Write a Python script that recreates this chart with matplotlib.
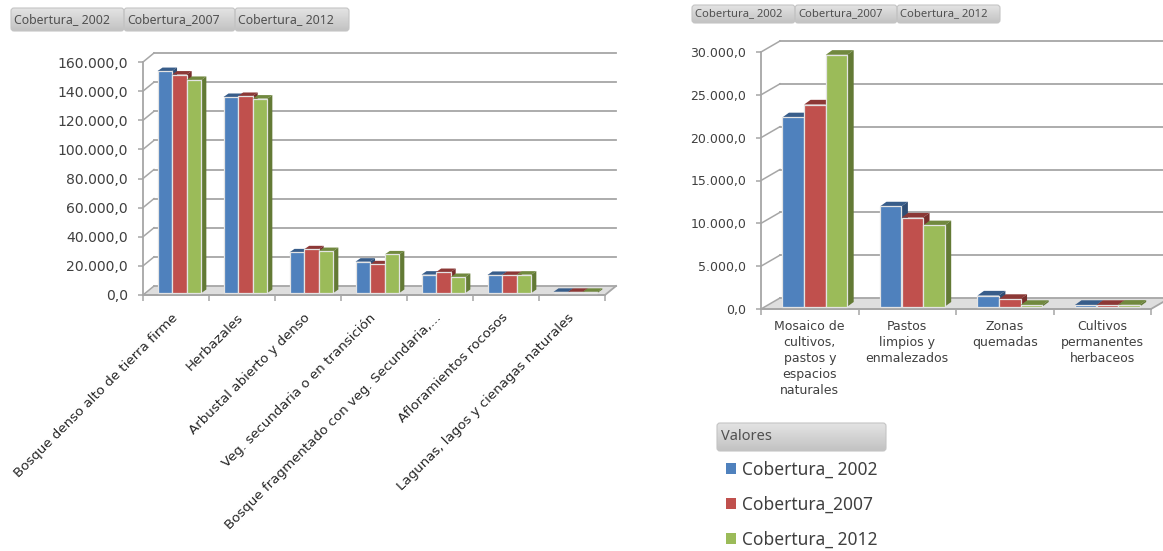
import numpy as np
import matplotlib
matplotlib.use("Agg")
import matplotlib.pyplot as plt
from matplotlib.patches import Polygon, FancyBboxPatch
from matplotlib.transforms import ScaledTranslation

W, H = 1163, 551

SERIES = ["Cobertura_ 2002", "Cobertura_2007", "Cobertura_ 2012"]
FACE = ["#4F81BD", "#C0504D", "#9BBB59"]
TOP = ["#385D8A", "#8C3836", "#71893F"]
SIDE = ["#2F4E75", "#772F2D", "#637A35"]
GRID = "#a6a6a6"
TEXT = "#404040"

LEFT_CATS = [
    "Bosque denso alto de tierra firme",
    "Herbazales",
    "Arbustal abierto y denso",
    "Veg. secundaria o en transición",
    "Bosque fragmentado con veg. Secundaria,...",
    "Afloramientos rocosos",
    "Lagunas, lagos y cienagas naturales",
]
LEFT_2002 = [152400, 134600, 27900, 21500, 12600, 12400, 800]
LEFT_2007 = [150000, 135300, 30000, 19700, 14400, 12400, 800]
LEFT_2012 = [146300, 133500, 28800, 26500, 11000, 12600, 800]
LEFT_TICKS = [0, 20000, 40000, 60000, 80000, 100000, 120000, 140000, 160000]

RIGHT_CATS = [
    "Mosaico de\ncultivos,\npastos y\nespacios\nnaturales",
    "Pastos\nlimpios y\nenmalezados",
    "Zonas\nquemadas",
    "Cultivos\npermanentes\nherbaceos",
]
RIGHT_2002 = [22100, 11700, 1300, 200]
RIGHT_2007 = [23600, 10400, 900, 200]
RIGHT_2012 = [29400, 9500, 200, 220]
RIGHT_TICKS = [0, 5000, 10000, 15000, 20000, 25000, 30000]


def fmt(v):
    return f"{v:,.1f}".replace(",", "#").replace(".", ",").replace("#", ".")


def make_axes(fig, x0, x1, y_top, y_zero):
    return fig.add_axes([x0 / W, 1 - y_zero / H, (x1 - x0) / W, (y_zero - y_top) / H])


def chart(ax, cats, series, ticks, wall, depth, lift, fontsize, pad):
    n = len(cats)
    ymax = ticks[-1]
    ax.set_xlim(0, n)
    ax.set_ylim(0, ymax)
    ax.patch.set_visible(False)
    bbox = ax.get_position()
    xpx = bbox.width * W / n
    ypx = bbox.height * H / ymax
    dx, dy = wall[0] / xpx, wall[1] / ypx
    bx, by = depth[0] / xpx, depth[1] / ypx
    base = lift / ypx

    # floor and walls
    ax.add_patch(Polygon([(0, 0), (n, 0), (n + dx, dy), (dx, dy)], fc="#dedede", ec="none", clip_on=False, zorder=1))
    ax.plot([0, n, n + dx], [0, 0, dy], color=GRID, lw=1.3, clip_on=False, zorder=1.5)
    for t in ticks:
        ax.plot([0, dx], [t, t + dy], color=GRID, lw=1.1, clip_on=False, zorder=1.5)
        ax.plot([dx, n + dx], [t + dy, t + dy], color=GRID, lw=1.3, clip_on=False, zorder=1.5)

    # bars
    width = 0.22
    z = 3
    for i in range(n):
        for j, vals in enumerate(series):
            x = i + 0.22 + j * 0.222
            v = vals[i]
            top = base + v
            ax.add_patch(Polygon([(x, top), (x + width, top), (x + width + bx, top + by), (x + bx, top + by)],
                                 fc=TOP[j], ec="none", clip_on=False, zorder=z))
            ax.add_patch(Polygon([(x + width, base), (x + width + bx, base + by), (x + width + bx, top + by), (x + width, top)],
                                 fc=SIDE[j], ec="none", clip_on=False, zorder=z))
            ax.bar(x, v, width, bottom=base, align="edge", color=FACE[j], edgecolor="#e4e4e4", linewidth=0.9,
                   clip_on=False, zorder=z + 0.5)
            z += 1

    for s in ["top", "right"]:
        ax.spines[s].set_visible(False)
    for s in ["left", "bottom"]:
        ax.spines[s].set_color(GRID)
        ax.spines[s].set_linewidth(1.3)
    ax.set_yticks(ticks)
    ax.set_yticklabels([fmt(t) for t in ticks], fontsize=fontsize, color=TEXT)
    ax.tick_params(axis="y", length=3.5, width=1.1, color=GRID, pad=pad)
    ax.set_xticks(np.arange(n + 1))
    ax.set_xticklabels([])
    ax.tick_params(axis="x", which="major", length=4, width=1.1, color=GRID)
    ax.set_xticks(np.arange(n) + 0.5, minor=True)


def gradient_box(ov, x0, y0, x1, y1, label, fontsize, tx=3):
    box = FancyBboxPatch((x0, y0), x1 - x0, y1 - y0, boxstyle="round,pad=0,rounding_size=3",
                         fc="none", ec="#c4c4c4", lw=0.8, zorder=3)
    ov.add_patch(box)
    grad = np.linspace(0.89, 0.76, 32).reshape(-1, 1)
    im = ov.imshow(grad, cmap="gray", vmin=0, vmax=1, extent=[x0, x1, y1, y0], aspect="auto", zorder=2)
    im.set_clip_path(box)
    ov.text(x0 + tx, (y0 + y1) / 2, label, fontsize=fontsize, color="#505050", ha="left", va="center",
            family="Noto Sans", zorder=4)


fig = plt.figure(figsize=(W / 100, H / 100), dpi=100)
fig.patch.set_facecolor("white")

ax1 = make_axes(fig, 143, 605, 62, 295)
chart(ax1, LEFT_CATS, [LEFT_2002, LEFT_2007, LEFT_2012], LEFT_TICKS, (11, 9), (5, 3.5), 2, 10.1, 7.5)
ax1.set_xticklabels(LEFT_CATS, minor=True, rotation=45, ha="right", va="top", rotation_mode="anchor",
                    fontsize=9.6, color="#262626")
ax1.tick_params(axis="x", which="minor", length=0, pad=11.5)
shift = ScaledTranslation(-5 / 100, 0, fig.dpi_scale_trans)
for lab in ax1.get_xticklabels(minor=True):
    lab.set_transform(lab.get_transform() + shift)

ax2 = make_axes(fig, 761, 1151, 52, 309)
chart(ax2, RIGHT_CATS, [RIGHT_2002, RIGHT_2007, RIGHT_2012], RIGHT_TICKS, (19, 11), (6.5, 4.7), 2.3, 9, 7)
ax2.set_xticklabels(RIGHT_CATS, minor=True, ha="center", va="top", fontsize=9, color="#404040", linespacing=1.3)
ax2.tick_params(axis="x", which="minor", length=0, pad=8)

# field buttons drawn in pixel space
ov = fig.add_axes([0, 0, 1, 1], zorder=10)
ov.set_xlim(0, W)
ov.set_ylim(H, 0)
ov.axis("off")
for (x0, x1), lab in zip([(11, 124), (124, 235), (235, 349)], SERIES):
    gradient_box(ov, x0, 8, x1, 31, lab, 8.85)
for (x0, x1), lab in zip([(692, 795), (795, 897), (897, 1000)], SERIES):
    gradient_box(ov, x0, 5, x1, 23, lab, 8.1)
gradient_box(ov, 717, 423, 886, 451, "Valores", 10.5, tx=4)
ov.set_xlim(0, W)
ov.set_ylim(H, 0)

handles = [plt.Rectangle((0, 0), 1, 1, fc=c, ec="none") for c in FACE]
fig.legend(handles, SERIES, loc="upper left", bbox_to_anchor=(726 / W, 1 - 460.5 / H), frameon=False,
           prop={"family": "Noto Sans", "size": 12.5}, labelcolor="#404040", handlelength=0.55, handleheight=0.55,
           handletextpad=0.35, labelspacing=0.98, borderaxespad=0, borderpad=0)

fig.savefig("out.png", dpi=100)
